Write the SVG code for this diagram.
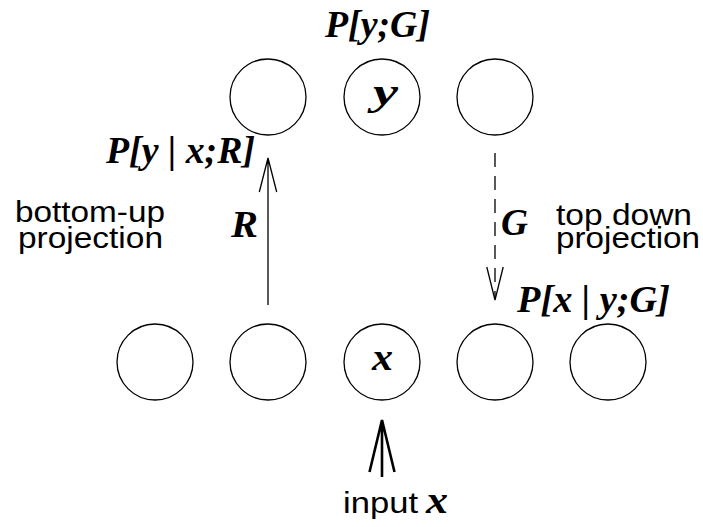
<svg xmlns="http://www.w3.org/2000/svg" width="703" height="527" viewBox="0 0 703 527">
<style>
.node{fill:#fff;stroke:#000;stroke-width:1.3}
.sans{font-family:"Liberation Sans",Arial,sans-serif;font-size:30px;fill:#000}
.math{font-family:"Liberation Serif","Times New Roman",serif;font-size:37px;font-weight:bold;font-style:italic;fill:#000}
.edge{fill:none;stroke:#000;stroke-width:1.3}
</style>
<rect width="703" height="527" fill="#fff"/>
<g id="top1"><circle class="node" cx="268" cy="97" r="38"/></g>
<g id="top-y"><circle class="node" cx="382" cy="97" r="38"/><text class="math" x="373" y="105" textLength="25" lengthAdjust="spacingAndGlyphs">y</text></g>
<g id="top3"><circle class="node" cx="495" cy="97" r="38"/></g>
<g id="bot1"><circle class="node" cx="155" cy="362" r="38"/></g>
<g id="bot2"><circle class="node" cx="268" cy="362" r="38"/></g>
<g id="bot-x"><circle class="node" cx="382" cy="362" r="38"/><text class="math" x="372" y="370" textLength="21" lengthAdjust="spacingAndGlyphs">x</text></g>
<g id="bot4"><circle class="node" cx="495" cy="362" r="38"/></g>
<g id="bot5"><circle class="node" cx="608" cy="362" r="38"/></g>
<g id="connectors">
<path class="edge" d="M268,305 V158 M259.3,192 L268,158 L276.7,192"/>
<path class="edge" d="M495,153 V298" stroke-dasharray="14 9"/>
<path class="edge" d="M486.8,267 L495,300 L503.2,267"/>
<path class="edge" style="stroke-width:2.6" d="M382,477 V420 M369.5,472 L382,420 L394.5,472"/>
</g>
<g id="labels">
<text class="math" x="325" y="37" textLength="105" lengthAdjust="spacingAndGlyphs">P[y;G]</text>
<text class="math" x="106" y="163" textLength="149" lengthAdjust="spacingAndGlyphs">P[y | x;R]</text>
<text class="math" x="517" y="312" textLength="153" lengthAdjust="spacingAndGlyphs">P[x | y;G]</text>
<text class="math" x="231" y="237" textLength="27" lengthAdjust="spacingAndGlyphs">R</text>
<text class="math" x="501" y="235" textLength="27" lengthAdjust="spacingAndGlyphs">G</text>
<text class="sans"><tspan x="15" y="222" textLength="150" lengthAdjust="spacingAndGlyphs">bottom-up</tspan><tspan x="18" y="248" textLength="145" lengthAdjust="spacingAndGlyphs">projection</tspan></text>
<text class="sans"><tspan x="556" y="225" textLength="136" lengthAdjust="spacingAndGlyphs">top down</tspan><tspan x="556" y="248" textLength="144" lengthAdjust="spacingAndGlyphs">projection</tspan></text>
<text class="sans" x="343" y="513" textLength="75" lengthAdjust="spacingAndGlyphs">input</text>
<text class="math" x="426" y="513" textLength="22" lengthAdjust="spacingAndGlyphs">x</text>
</g>
</svg>
